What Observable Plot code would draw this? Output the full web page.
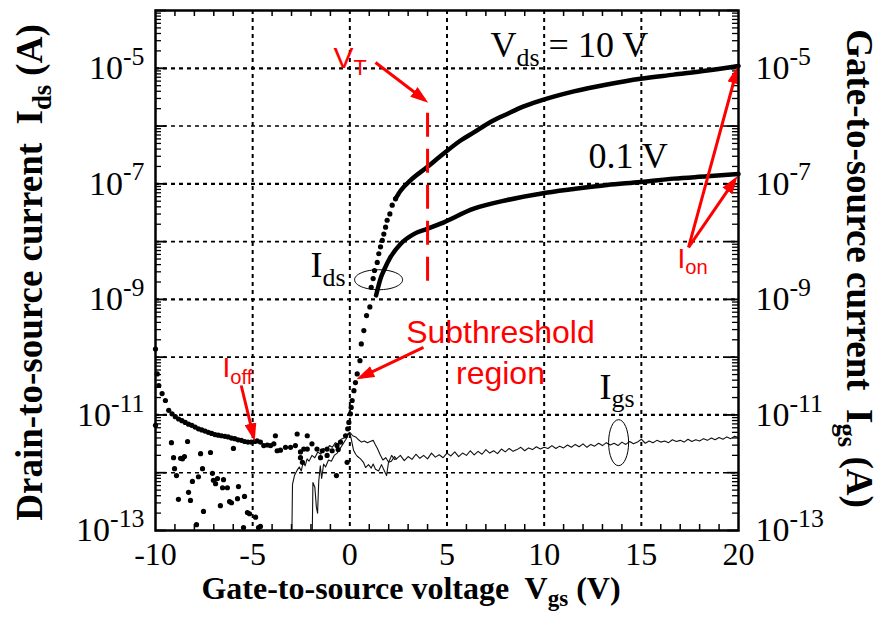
<!DOCTYPE html>
<html>
<head>
<meta charset="utf-8">
<script src="https://cdn.jsdelivr.net/npm/d3@7"></script>
<script src="https://cdn.jsdelivr.net/npm/@observablehq/plot@0.6"></script>
<style>
  html, body { margin: 0; padding: 0; background: #fff; }
</style>
</head>
<body>
<div id="chart"></div>
<script>
// ---- Transfer characteristics of the TFT (currents stored as log10 of amperes) ----

// Vds = 10 V, on-branch (dense points, drawn as a thick trace)
const on10Vgs = [2.35, 2.61, 3.12, 3.98, 4.67, 5.70, 6.38, 7.24, 8.10, 8.95, 9.81, 11.53, 13.24, 14.96, 16.67, 18.39, 20.0];
const on10Log = [-7.26, -7.12, -6.94, -6.71, -6.52, -6.25, -6.11, -5.93, -5.79, -5.66, -5.56, -5.40, -5.28, -5.18, -5.11, -5.04, -4.96];

// Vds = 0.1 V, on-branch
const on01Vgs = [1.35, 1.41, 1.58, 1.75, 2.09, 2.61, 3.29, 3.98, 4.67, 6.38, 8.10, 9.81, 11.53, 13.24, 14.96, 16.67, 18.39, 20.0];
const on01Log = [-8.93, -8.85, -8.64, -8.50, -8.27, -8.04, -7.87, -7.78, -7.69, -7.43, -7.28, -7.17, -7.09, -7.02, -6.97, -6.91, -6.87, -6.83];

// Vds = 10 V, off-state and subthreshold samples (individual points)
const offVgs = [-10.00, -10.00, -9.91, -9.83, -9.66, -9.49, -9.32, -9.15, -8.98, -8.81, -8.64, -8.47, -8.30, -8.13,
  -7.96, -7.79, -7.62, -7.45, -7.28, -7.11, -6.94, -6.77, -6.60, -6.43, -6.26, -6.09, -5.92, -5.75, -5.58, -5.41,
  -5.24, -5.07, -4.90, -4.77, -4.60, -4.43, -4.25, -4.08, -3.91, -3.74, -3.57, -3.31, -3.05, -2.80, -2.54, -2.37,
  -2.19, -1.95, -1.69, -1.42, -1.17, -0.91, -0.66, -0.48, -0.22, -0.11, -0.05, 0.03, 0.07, 0.12, 0.21, 0.29,
  0.38, 0.52, 0.59, 0.72, 0.86, 1.03, 1.10, 1.20, 1.27, 1.41, 1.49, 1.58, 1.67, 1.75, 1.84, 1.92, 2.06, 2.18, 2.35];
const offLog = [-9.86, -11.18, -10.29, -10.49, -10.63, -10.75, -10.92, -10.98, -11.03, -11.07, -11.10, -11.13, -11.16, -11.18,
  -11.21, -11.24, -11.26, -11.28, -11.30, -11.32, -11.34, -11.35, -11.36, -11.37, -11.38, -11.40, -11.41, -11.43, -11.44, -11.46,
  -11.47, -11.47, -11.46, -11.45, -11.47, -11.53, -11.52, -11.53, -11.50, -11.62, -11.61, -11.56, -11.56, -11.53, -11.64, -11.59,
  -11.59, -11.50, -11.59, -11.62, -11.59, -11.62, -11.53, -11.47, -11.36, -11.24, -11.13, -10.98, -10.87, -10.75, -10.58, -10.44,
  -10.29, -10.06, -9.77, -9.54, -9.28, -9.13, -8.79, -8.64, -8.50, -8.36, -8.21, -8.09, -7.98, -7.87, -7.75, -7.63, -7.52, -7.37, -7.26];

// Vds = 0.1 V, off-state samples (noise floor)
const noiseVgs = [-9.18, -9.07, -9.02, -8.92, -8.82, -8.71, -8.61, -8.51, -8.35, -8.30, -8.20, -8.10, -7.89, -7.79, -7.68,
  -7.58, -7.53, -7.17, -7.07, -7.02, -6.91, -6.81, -6.66, -6.55, -6.50, -6.30, -6.19, -6.09, -5.99, -5.78, -5.73, -5.47,
  -5.42, -5.27, -5.16, -4.85, -4.70, -4.60, -3.83, -2.71, -2.54, -2.44, -2.19, -1.51, -1.17, -0.69, -0.60, -0.14];
const noiseLog = [-11.48, -11.74, -11.93, -12.05, -12.46, -11.75, -11.76, -11.72, -11.46, -12.34, -12.48, -12.15, -12.90, -12.07, -11.67,
  -11.93, -12.67, -11.65, -12.01, -12.13, -12.19, -12.10, -12.57, -12.26, -12.12, -12.26, -12.50, -12.52, -11.58, -12.45, -12.24, -12.95,
  -12.41, -12.69, -12.71, -12.77, -12.95, -12.93, -11.36, -11.33, -11.74, -11.82, -11.36, -11.74, -11.70, -12.05, -11.60, -11.82];

// Gate leakage Igs, two sweeps near 0 V
const igsAVgs = [-2.98, -2.95, -2.85, -2.70, -2.60, -2.50, -2.40, -2.30, -2.20, -2.10, -1.95, -1.80, -1.65, -1.50, -1.35,
  -1.20, -1.05, -0.90, -0.75, -0.60, -0.45, -0.30, -0.15, 0.00, 0.15, 0.30, 0.45, 0.60, 0.75, 0.90, 1.05, 1.20, 1.32,
  1.42, 1.55, 1.70, 1.85, 2.00, 2.15, 2.30];
const igsALog = [-12.98, -12.20, -12.05, -11.95, -11.90, -11.97, -11.82, -11.88, -11.76, -11.80, -11.70, -11.74, -11.64, -11.68, -11.58,
  -11.62, -11.53, -11.56, -11.48, -11.50, -11.42, -11.40, -11.34, -11.30, -11.36, -11.38, -11.43, -11.47, -11.45, -11.48, -11.46, -11.44, -11.52,
  -11.58, -11.68, -11.78, -11.74, -11.82, -11.70, -11.77];
const igsBVgs = [-1.93, -1.90, -1.80, -1.72, -1.66, -1.60, -1.52, -1.45, -1.35, -1.25, -1.10, -0.95, -0.80, -0.65, -0.50,
  -0.35, -0.20, -0.07, 0.05, 0.19, 0.30, 0.40, 0.55, 0.70, 0.81, 0.96, 1.10, 1.20, 1.32, 1.48, 1.63, 1.75, 1.89, 1.99, 2.14, 2.30, 2.40];
const igsBLog = [-12.98, -12.17, -12.25, -12.60, -12.70, -12.15, -11.88, -12.10, -11.85, -11.90, -11.78, -11.80, -11.70, -11.66, -11.58,
  -11.50, -11.42, -11.32, -11.38, -11.61, -11.68, -11.72, -11.76, -11.82, -11.91, -11.86, -11.92, -11.85, -11.94, -11.97, -11.86, -11.95, -12.05, -11.82, -11.80, -11.72, -11.76];
// Gate leakage, common tail up to 20 V
const igsTailVgs = [2.4, 2.6, 2.8, 3.0, 3.2, 3.4, 3.6, 3.8, 4.0, 4.2, 4.4, 4.6, 4.8, 5.0, 5.2, 5.4, 5.6, 5.8, 6.0, 6.2,
  6.4, 6.6, 6.8, 7.0, 7.2, 7.4, 7.6, 7.8, 8.0, 8.2, 8.4, 8.6, 8.8, 9.0, 9.2, 9.4, 9.6, 9.8, 10.0, 10.2, 10.4, 10.6,
  10.8, 11.0, 11.2, 11.4, 11.6, 11.8, 12.0, 12.2, 12.4, 12.6, 12.8, 13.0, 13.2, 13.4, 13.6, 13.8, 14.0, 14.2, 14.4,
  14.6, 14.8, 15.0, 15.2, 15.4, 15.6, 15.8, 16.0, 16.2, 16.4, 16.6, 16.8, 17.0, 17.2, 17.4, 17.6, 17.8, 18.0, 18.2,
  18.4, 18.6, 18.8, 19.0, 19.2, 19.4, 19.6, 19.8, 20.0];
const igsTailLog = [-11.76, -11.70, -11.79, -11.72, -11.77, -11.68, -11.75, -11.70, -11.76, -11.66, -11.73, -11.69, -11.74, -11.66, -11.71, -11.64, -11.72, -11.66, -11.70, -11.62,
  -11.69, -11.63, -11.68, -11.60, -11.66, -11.62, -11.67, -11.59, -11.64, -11.58, -11.63, -11.60, -11.56, -11.62, -11.57, -11.60, -11.55, -11.59, -11.56, -11.58, -11.53, -11.58,
  -11.54, -11.57, -11.52, -11.56, -11.51, -11.55, -11.50, -11.56, -11.51, -11.54, -11.49, -11.53, -11.48, -11.52, -11.49, -11.53, -11.47, -11.51, -11.46,
  -11.50, -11.47, -11.42, -11.49, -11.45, -11.48, -11.44, -11.47, -11.45, -11.48, -11.43, -11.46, -11.44, -11.47, -11.42, -11.46, -11.43, -11.45, -11.41,
  -11.44, -11.40, -11.43, -11.39, -11.42, -11.38, -11.41, -11.37, -11.39];

// Threshold voltage marker
const vt = 4;
const vtSpanLog = [-5.78, -8.76];

// Axis ticks
const xLabels = [-10, -5, 0, 5, 10, 15, 20];
const xGrid = [-5, 0, 5, 10, 15];
const xMinor = [-9, -8, -7, -6, -4, -3, -2, -1, 1, 2, 3, 4, 6, 7, 8, 9, 11, 12, 13, 14, 16, 17, 18, 19];
const decadeExp = [-13, -12, -11, -10, -9, -8, -7, -6, -5, -4];
const labelExp = [-13, -11, -9, -7, -5];
const minorMult = [2, 3, 4, 5, 6, 7, 8, 9];

// Callout arrows (log10 currents)
const callouts = [
  {x1: 1.32, y1: -4.90, x2: 3.85, y2: -5.55},   // V_T
  {x1: -5.59, y1: -10.49, x2: -4.95, y2: -11.38}, // I_off
  {x1: 3.79, y1: -9.83, x2: 0.55, y2: -10.35},  // subthreshold
  {x1: 17.43, y1: -8.10, x2: 19.92, y2: -5.03}, // I_on at 10 V
  {x1: 17.43, y1: -8.10, x2: 19.82, y2: -6.93}  // I_on at 0.1 V
];

// Text labels
const redLabels = [
  {x: -0.84, y: -5.00, text: "V_{T}", size: 30, anchor: "start"},
  {x: -6.55, y: -10.35, text: "I_{off}", size: 28, anchor: "start"},
  {x: 16.86, y: -8.45, text: "I_{on}", size: 28, anchor: "start"},
  {x: 7.75, y: -9.75, text: "Subthreshold", size: 32, anchor: "middle"},
  {x: 7.75, y: -10.46, text: "region", size: 32, anchor: "middle"}
];
const blackLabels = [
  {x: 7.24, y: -4.81, text: "V_{ds} = 10 V"},
  {x: 12.28, y: -6.72, text: "0.1 V"},
  {x: -2.02, y: -8.62, text: "I_{ds}"},
  {x: 12.85, y: -10.72, text: "I_{gs}"}
];
const ellipses = [
  {x: 1.48, y: -8.66, rx: 24, ry: 10},
  {x: 13.83, y: -11.48, rx: 10, ry: 23}
];

// ---- helpers ----
const pts = (vs, ls) => vs.map((v, i) => ({vgs: v, logI: ls[i]}));
const amp = (d) => 10 ** d.logI;

const on10 = pts(on10Vgs, on10Log);
const on01 = pts(on01Vgs, on01Log);
const offDots = pts(offVgs, offLog);
const noiseDots = pts(noiseVgs, noiseLog);
const igsA = pts(igsAVgs, igsALog).concat(pts(igsTailVgs, igsTailLog));
const igsB = pts(igsBVgs, igsBLog);

const decades = decadeExp.map((e) => 10 ** e);
const oddDecades = [-11, -9, -7, -5].map((e) => 10 ** e);
const evenDecades = [-12, -10, -8, -6].map((e) => 10 ** e);
const yMinor = decadeExp.slice(0, -1).flatMap((e) => minorMult.map((m) => m * 10 ** e));

function ellipseSymbol(rx, ry) {
  const k = 0.5523;
  return {
    draw(ctx) {
      ctx.moveTo(rx, 0);
      ctx.bezierCurveTo(rx, ry * k, rx * k, ry, 0, ry);
      ctx.bezierCurveTo(-rx * k, ry, -rx, ry * k, -rx, 0);
      ctx.bezierCurveTo(-rx, -ry * k, -rx * k, -ry, 0, -ry);
      ctx.bezierCurveTo(rx * k, -ry, rx, -ry * k, rx, 0);
      ctx.closePath();
    }
  };
}

const serif = "'Liberation Serif', 'Times New Roman', Times, serif";
const sans = "'Liberation Sans', Arial, Helvetica, sans-serif";
const W = 583, H = 520; // frame size in pixels

const gridStyle = {stroke: "black", strokeOpacity: 1, strokeDasharray: "4,4"};

const plot = Plot.plot({
  width: 886,
  height: 630,
  marginTop: 10,
  marginBottom: 100,
  marginLeft: 155,
  marginRight: 148,
  x: {domain: [-10, 20]},
  y: {type: "log", domain: [1e-13, 1e-4]},
  style: {fontFamily: serif, fontSize: "32px", color: "black", background: "white", overflow: "visible"},
  marks: [
    // dotted grid
    Plot.gridY(evenDecades, {...gridStyle, strokeWidth: 1.6}),
    Plot.gridY(oddDecades, {...gridStyle, strokeWidth: 2.2}),
    Plot.gridX(xGrid, {...gridStyle, strokeWidth: 2}),

    // inward ticks
    Plot.ruleX(xMinor, {insetTop: H - 6, stroke: "black", strokeWidth: 1.5}),
    Plot.ruleX(xMinor, {insetBottom: H - 6, stroke: "black", strokeWidth: 1.5}),
    Plot.ruleY(yMinor, {insetRight: W - 6, stroke: "black", strokeWidth: 1.3}),
    Plot.ruleY(yMinor, {insetLeft: W - 6, stroke: "black", strokeWidth: 1.3}),
    Plot.ruleY(decades, {insetRight: W - 11, stroke: "black", strokeWidth: 1.8}),
    Plot.ruleY(decades, {insetLeft: W - 11, stroke: "black", strokeWidth: 1.8}),

    // tick labels
    Plot.axisX(xLabels, {anchor: "bottom", tickSize: 0, tickPadding: 12, tickFormat: (d) => `${d}`, label: null, fontSize: 32}),
    Plot.axisY(labelExp.map((e) => 10 ** e), {anchor: "left", tickSize: 0, tickPadding: 11, tickFormat: (d) => `10^{${Math.round(Math.log10(d))}}`, label: null, fontSize: 34}),
    Plot.axisY(labelExp.map((e) => 10 ** e), {anchor: "right", tickSize: 0, tickPadding: 17, tickFormat: (d) => `10^{${Math.round(Math.log10(d))}}`, label: null, fontSize: 34}),

    // gate leakage
    Plot.line(igsA, {x: "vgs", y: amp, stroke: "#111", strokeWidth: 1.1}),
    Plot.line(igsB, {x: "vgs", y: amp, stroke: "#111", strokeWidth: 1.1}),

    // drain current
    Plot.dot(noiseDots, {x: "vgs", y: amp, r: 2.6, fill: "black"}),
    Plot.dot(offDots, {x: "vgs", y: amp, r: 2.6, fill: "black"}),
    Plot.line(on10, {x: "vgs", y: amp, stroke: "black", strokeWidth: 4.5, curve: "monotone-x"}),
    Plot.line(on01, {x: "vgs", y: amp, stroke: "black", strokeWidth: 4.5, curve: "monotone-x"}),

    // threshold voltage
    Plot.ruleX([vt], {y1: 10 ** vtSpanLog[0], y2: 10 ** vtSpanLog[1], stroke: "#ff0000", strokeWidth: 3, strokeDasharray: "24,12"}),

    // curve tags
    ...ellipses.map((e) => Plot.dot([e], {x: "x", y: (d) => 10 ** d.y, symbol: ellipseSymbol(e.rx, e.ry), r: 1, stroke: "black", fill: "none", strokeWidth: 1})),
    Plot.text(blackLabels, {x: "x", y: (d) => 10 ** d.y, text: "text", textAnchor: "start", lineAnchor: "bottom", fontFamily: serif, fontSize: 36, fill: "black"}),

    // red callouts (arrowheads attached below)
    Plot.link(callouts, {x1: "x1", y1: (d) => 10 ** d.y1, x2: "x2", y2: (d) => 10 ** d.y2, stroke: "#ff0000", strokeWidth: 3}),
    ...redLabels.map((l) => Plot.text([l], {x: "x", y: (d) => 10 ** d.y, text: "text", textAnchor: l.anchor, lineAnchor: "bottom", fontFamily: sans, fontSize: l.size, fill: "#ff0000"})),

    // axis titles
    Plot.text(["Gate-to-source voltage  V_{gs} (V)"], {frameAnchor: "bottom", dx: -36, dy: 68, textAnchor: "middle", lineAnchor: "bottom", fontWeight: "bold", fontSize: 32, fontFamily: serif}),
    Plot.text(["Drain-to-source current  I_{ds} (A)"], {frameAnchor: "left", dx: -125, dy: 2, rotate: -90, textAnchor: "middle", lineAnchor: "middle", fontWeight: "bold", fontSize: 37, fontFamily: serif}),
    Plot.text(["Gate-to-source current  I_{gs} (A)"], {frameAnchor: "right", dx: 120, dy: -2, rotate: 90, textAnchor: "middle", lineAnchor: "middle", fontWeight: "bold", fontSize: 37, fontFamily: serif}),

    Plot.frame({stroke: "black", strokeWidth: 2.5})
  ]
});

document.getElementById("chart").appendChild(plot);

// Filled arrowheads for the callout links
const svgNS = "http://www.w3.org/2000/svg";
const defs = document.createElementNS(svgNS, "defs");
defs.innerHTML = '<marker id="callout-head" viewBox="0 0 18 12" refX="13.5" refY="6" markerWidth="18" markerHeight="12" markerUnits="userSpaceOnUse" orient="auto"><path d="M0,0L18,6L0,12Z" fill="#ff0000"/></marker>';
plot.insertBefore(defs, plot.firstChild);
plot.querySelectorAll('g[aria-label="link"] path').forEach((p) => p.setAttribute("marker-end", "url(#callout-head)"));

// Sub- and superscripts written as _{...} and ^{...}
d3.select(plot).selectAll("text").each(function () {
  const s = this.textContent;
  if (!/[_^]\{/.test(s)) return;
  const fs = parseFloat(getComputedStyle(this).fontSize);
  const re = /([_^])\{([^}]*)\}/g;
  const parts = [];
  let last = 0, m;
  while ((m = re.exec(s))) {
    if (m.index > last) parts.push({t: s.slice(last, m.index)});
    parts.push({t: m[2], k: m[1]});
    last = re.lastIndex;
  }
  if (last < s.length) parts.push({t: s.slice(last)});
  this.textContent = "";
  let shift = 0;
  for (const p of parts) {
    const ts = document.createElementNS(svgNS, "tspan");
    const target = p.k === "_" ? 0.24 * fs : p.k === "^" ? -0.42 * fs : 0;
    ts.setAttribute("dy", `${target - shift}`);
    shift = target;
    if (p.k) ts.setAttribute("font-size", `${(p.k === "^" ? 0.76 : 0.72) * fs}`);
    ts.textContent = p.t;
    this.appendChild(ts);
  }
});
</script>
</body>
</html>
